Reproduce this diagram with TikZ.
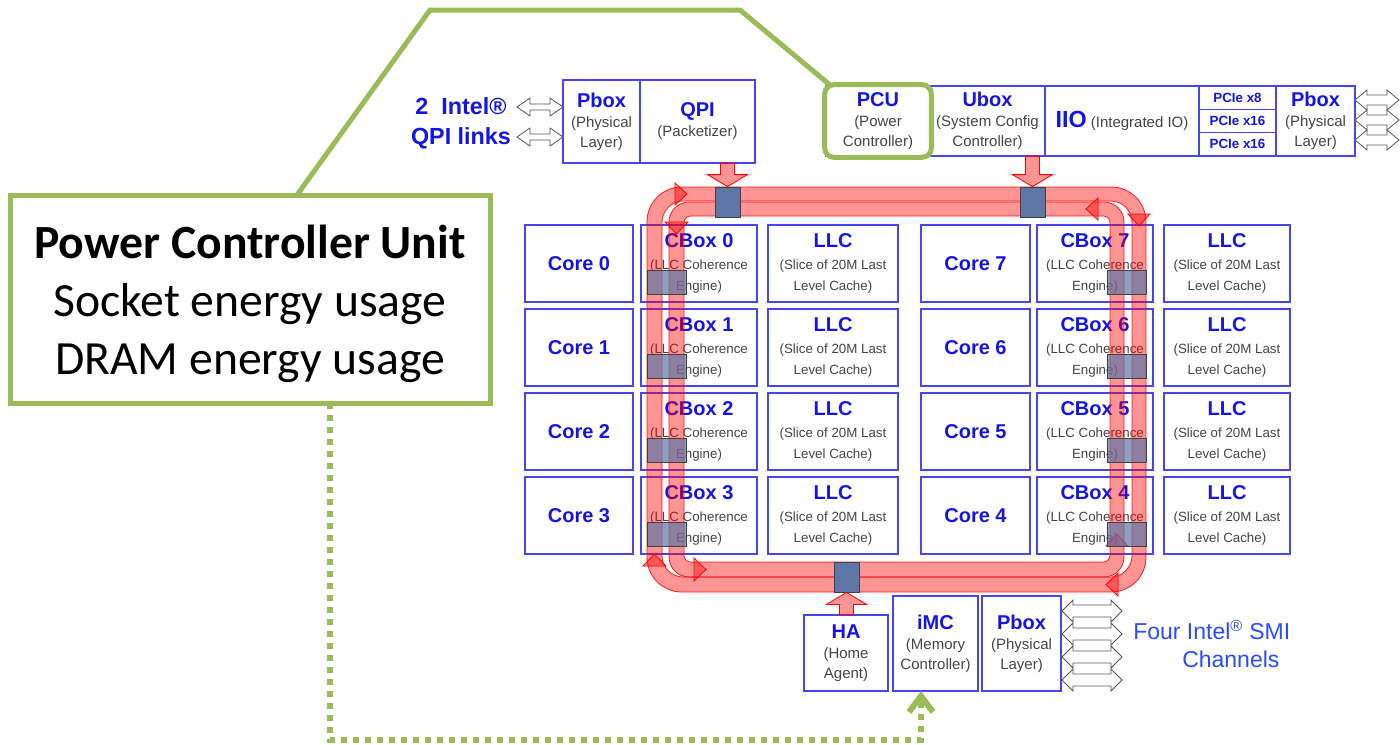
\documentclass[tikz,border=0pt]{standalone}
\usepackage{fontspec}
\setmainfont{Liberation Sans}
\newfontfamily\calibrifont{Carlito}
\usetikzlibrary{arrows.meta,positioning,calc,fit}

\definecolor{chipBlue}{HTML}{1414E6}
\definecolor{frameBlue}{HTML}{4646F0}
\definecolor{smiBlue}{HTML}{2A4BFF}
\definecolor{noteGray}{HTML}{444444}
\definecolor{pcuGreen}{HTML}{9BBB59}
\definecolor{stopBlue}{HTML}{5F77A6}
\definecolor{linkGray}{HTML}{555555}

\tikzset{
  unit/.style={draw=frameBlue, line width=0.9pt, fill=white, inner sep=0pt, outer sep=0pt,
    align=center, text=noteGray, font=\fontsize{11.25}{15}\selectfont},
  cell/.style={unit, minimum height=57.75pt, font=\fontsize{10}{16}\selectfont},
  corecell/.style={cell, minimum width=81pt, text=chipBlue, font=\bfseries\fontsize{15}{16}\selectfont},
  ringband/.style={fill=red, fill opacity=0.42, draw=red, draw opacity=0.85, line width=0.6pt, even odd rule},
  ringtip/.style={fill=red, fill opacity=0.42, draw=red, line width=0.6pt},
  feedarrow/.style={fill=red, fill opacity=0.42, draw=red, line width=0.6pt},
  ringstop/.style={draw=black!75, line width=0.6pt, fill=stopBlue, inner sep=0pt,
    minimum width=18.75pt, minimum height=22.5pt},
  cboxstop/.style={draw=black!75, line width=0.6pt, fill=stopBlue, fill opacity=0.7, inner sep=0pt,
    minimum width=29.25pt, minimum height=18pt},
  link/.style={draw=linkGray, line width=0.6pt, fill=white},
  greenframe/.style={draw=pcuGreen, line width=3.75pt, rounded corners=7pt},
  callout/.style={draw=pcuGreen, line width=3.75pt, fill=white, outer sep=0pt, inner sep=0pt},
  leader/.style={draw=pcuGreen, line width=3.75pt},
  energylink/.style={draw=pcuGreen, line width=4.5pt, dash pattern=on 4.5pt off 4.5pt,
    -{Straight Barb[length=12pt,width=18pt]}},
}
\newcommand\unitname[1]{{\color{chipBlue}\bfseries\fontsize{15}{15}\selectfont #1}}
% hollow two-way link: left x, right x, y, body half, head half, head length
\newcommand\linkarrow[6]{%
  \draw[link] (#1,#3) -- (#1+#6,#3-#5) -- (#1+#6,#3-#4) -- (#2-#6,#3-#4) -- (#2-#6,#3-#5)
    -- (#2,#3) -- (#2-#6,#3+#5) -- (#2-#6,#3+#4) -- (#1+#6,#3+#4) -- (#1+#6,#3+#5) -- cycle;}
% block arrow feeding the ring: tail, tip
\newcommand\feedarrow[2]{%
  \coordinate (feedneck) at ($(#2)!9pt!(#1)$);
  \draw[feedarrow] ($(#1)+(-7,0)$) -- ($(feedneck)+(-7,0)$) -- ($(feedneck)+(-20,0)$) -- (#2)
    -- ($(feedneck)+(20,0)$) -- ($(feedneck)+(7,0)$) -- ($(#1)+(7,0)$) -- cycle;}

\begin{document}
\begin{tikzpicture}[x=0.75pt, y=-0.75pt]
  \useasboundingbox (0,0) rectangle (1400,744);

  % QPI side
  \node[font=\bfseries\fontsize{17.5}{22.5}\selectfont, text=chipBlue, align=center] (qpilinks)
    at (461,123) {2\ \ Intel®\\QPI links};
  \linkarrow{517}{563}{107}{3}{9}{13}
  \linkarrow{517}{563}{137}{3}{9}{13}
  \node[unit, minimum width=57.75pt, minimum height=62.25pt] (qpipbox) at (601.5,121.5)
    {\unitname{Pbox}\\(Physical\\Layer)};
  \node[unit, minimum width=86.25pt, minimum height=62.25pt] (qpi) at (697.5,121.5)
    {\unitname{QPI}\\(Packetizer)};

  % uncore strip
  \node[unit, minimum width=78pt, minimum height=52.5pt] (pcu) at (878,121)
    {\unitname{PCU}\\(Power\\Controller)};
  \node[unit, minimum width=86.25pt, minimum height=52.5pt] (ubox) at (987.5,121)
    {\unitname{Ubox}\\(System Config\\Controller)};
  \node[unit, minimum width=115.5pt, minimum height=52.5pt] (iio) at (1122,121)
    {{\color{chipBlue}\bfseries\fontsize{17.5}{15}\selectfont IIO} (Integrated IO)};
  \foreach \k/\lbl in {0/PCIe x8,1/PCIe x16,2/PCIe x16}{
    \node[unit, minimum width=57.75pt, minimum height=17.5pt, text=chipBlue,
      font=\bfseries\fontsize{10}{12}\selectfont] (pcie\k) at (1237.5,{97.7+23.33*\k}) {\lbl};
  }
  \node[unit, minimum width=59.25pt, minimum height=52.5pt] (iopbox) at (1315.5,121)
    {\unitname{Pbox}\\(Physical\\Layer)};
  \foreach \y in {100,120,140}{\linkarrow{1355}{1399}{\y}{5}{10}{12}}

  % cores, cboxes and LLC slices
  \foreach \i in {0,...,3}{
    \pgfmathtruncatemacro\j{7-\i}
    \pgfmathsetmacro\yc{263.5+84*\i}
    \node[corecell] (core\i) at (579,\yc) {Core \i};
    \node[cell, minimum width=87pt] (cbox\i) at (699,\yc) {\unitname{CBox \i}\\(LLC Coherence\\Engine)};
    \node[cell, minimum width=97.5pt] (llc\i) at (833,\yc) {\unitname{LLC}\\(Slice of 20M Last\\Level Cache)};
    \node[corecell, minimum width=81.75pt] (core\j) at (975.5,\yc) {Core \j};
    \node[cell, minimum width=87pt] (cbox\j) at (1095,\yc) {\unitname{CBox \j}\\(LLC Coherence\\Engine)};
    \node[cell, minimum width=94.5pt] (llc\j) at (1227,\yc) {\unitname{LLC}\\(Slice of 20M Last\\Level Cache)};
  }

  % memory side
  \node[unit, minimum width=63pt, minimum height=57pt] (ha) at (846,653)
    {\unitname{HA}\\(Home\\Agent)};
  \node[unit, minimum width=63.75pt, minimum height=71.25pt] (imc) at (935.5,643.5)
    {\unitname{iMC}\\(Memory\\Controller)};
  \node[unit, minimum width=59.25pt, minimum height=71.25pt] (mempbox) at (1021.5,643.5)
    {\unitname{Pbox}\\(Physical\\Layer)};
  \foreach \y in {611,634,657,680}{\linkarrow{1062}{1122}{\y}{6}{11}{11}}
  \node[font=\fontsize{17.25}{21}\selectfont, text=smiBlue, align=left, anchor=west, inner sep=0pt]
    (smilinks) at (1133,644) {Four Intel\textsuperscript{®} SMI\\\hspace*{36.75pt}Channels};

  % the two counter-rotating rings
  \path[ringband, rounded corners=26pt] (647,187) rectangle (1146,592)
    [rounded corners=16pt] (662,201) rectangle (1132,577);
  \path[ringband, rounded corners=15pt] (669,202) rectangle (1124,577)
    [rounded corners=5pt] (684,216) rectangle (1110,562);
  \foreach \a/\b/\c in {{675,183}/{675,205}/{687,194}, {1128,214}/{1150,214}/{1139,226},
      {1118,573}/{1118,596}/{1106,584.5}, {643,566}/{666,566}/{654.5,554},
      {665,222}/{688,222}/{676.5,234}, {694,558}/{694,581}/{706,569.5},
      {1106,546}/{1128,546}/{1117,534}, {1098,198}/{1098,220}/{1086,209}}{
    \draw[ringtip] (\a) -- (\b) -- (\c) -- cycle;
  }

  % ring stops
  \foreach \i in {0,...,3}{
    \pgfmathtruncatemacro\j{7-\i}
    \node[cboxstop] (stop\i) at (666.5,{282+84*\i}) {};
    \node[cboxstop] (stop\j) at (1126.5,{282+84*\i}) {};
  }
  \node[ringstop] (stopqpi) at (727.5,202) {};
  \node[ringstop] (stopubox) at (1032.5,202) {};
  \node[ringstop] (stopha) at (846.5,577) {};
  \coordinate (qpifeed) at (stopqpi |- qpi.south);
  \coordinate (uboxfeed) at (stopubox |- ubox.south);
  \coordinate (hafeed) at (stopha |- ha.north);
  \feedarrow{qpifeed}{stopqpi.north}
  \feedarrow{uboxfeed}{stopubox.north}
  \feedarrow{hafeed}{stopha.south}

  % power controller callout
  \node[greenframe, fit=(pcu), inner sep=1pt] (pcumark) {};
  \node[callout, minimum width=360pt, minimum height=156pt] (pcunote) at (250,299) {};
  \node[font=\calibrifont\fontsize{35.75}{43.5}\selectfont, align=center] (pcutext) at (250,304)
    {\textbf{Power Controller Unit}\\Socket energy usage\\DRAM energy usage};
  \draw[leader] ($(pcunote.north west)+(287,0)$) -- (430,10) -- (740,10) -- ($(pcumark.north west)+(8,3)$);
  \coordinate (dramtap) at (921,740);
  \draw[energylink] ($(pcunote.south)+(80,0)$) |- (dramtap) -- (dramtap |- imc.south);
\end{tikzpicture}
\end{document}
